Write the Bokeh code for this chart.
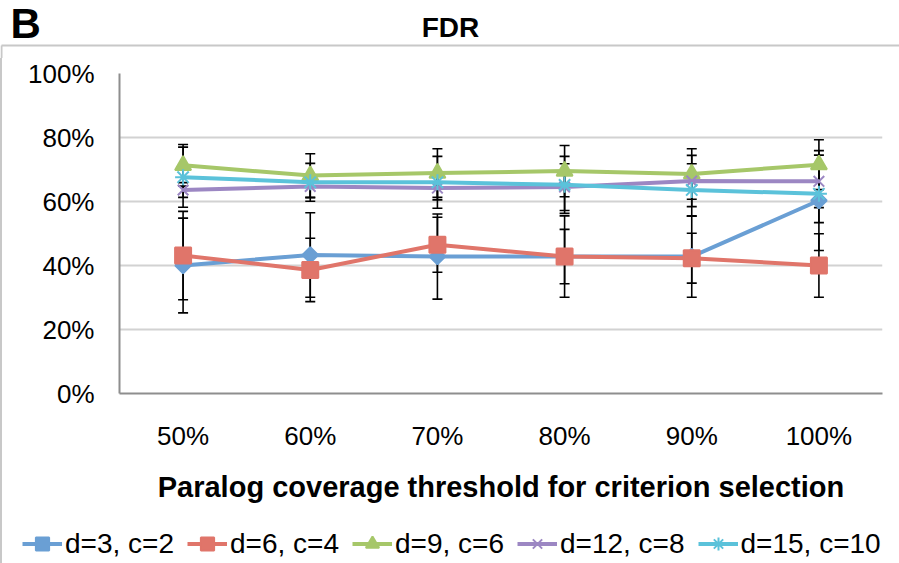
from bokeh.plotting import figure
from bokeh.layouts import column
from bokeh.models import (ColumnDataSource, FactorRange, Range1d, FixedTicker, Whisker, TeeHead,
                          Legend, LegendItem)
from bokeh.core.properties import value
from bokeh.embed import file_html
from bokeh.resources import INLINE
import math

# ---------------- data ----------------
categories = ["50%", "60%", "70%", "80%", "90%", "100%"]

series_names = ["d=3, c=2", "d=6, c=4", "d=9, c=6", "d=12, c=8", "d=15, c=10"]

d3_c2 = [40.0, 43.3, 42.8, 42.8, 42.8, 60.3]
d3_c2_err = [14.8, 13.2, 13.3, 12.7, 12.7, 15.6]

d6_c4 = [43.1, 38.6, 46.5, 42.8, 42.3, 40.0]
d6_c4_err = [13.8, 9.9, 8.6, 8.5, 7.8, 9.9]

d9_c6 = [71.3, 68.1, 68.9, 69.5, 68.6, 71.5]
d9_c6_err = [6.5, 6.8, 7.6, 8.0, 7.9, 7.8]

d12_c8 = [63.6, 64.7, 64.2, 64.5, 66.4, 66.3]
d12_c8_err = [2.3, 3.5, 3.7, 7.3, 8.0, 8.2]

d15_c10 = [67.6, 66.0, 66.0, 65.2, 63.6, 62.4]
d15_c10_err = [9.4, 5.9, 8.1, 8.9, 8.2, 9.0]

y_ticks = [0, 20, 40, 60, 80, 100]
y_tick_labels = ["0%", "20%", "40%", "60%", "80%", "100%"]

title_text = "FDR"
panel_text = "B"
x_title = "Paralog coverage threshold for criterion selection"

# ---------------- styling ----------------
FONT = "Liberation Sans"
BORDER = "#C8C8C8"
colors = ["#6A9FD4", "#E0756A", "#A6C769", "#9C87C3", "#5BC2DA"]
markers = ["square", "square", "triangle", "x", "asterisk"]
angles = [math.pi / 4, 0, 0, 0, 0]
sizes = [11, 16, 16, 15, 16]

values = [d3_c2, d6_c4, d9_c6, d12_c8, d15_c10]
errors = [d3_c2_err, d6_c4_err, d9_c6_err, d12_c8_err, d15_c10_err]

W = 899
HEAD_H = 58
FOOT_H = 48
MAIN_H = 563 - HEAD_H - FOOT_H

# ---------------- header (panel letter + title); y measured upward ----------------
head = figure(width=W, height=HEAD_H, x_range=Range1d(0, W), y_range=Range1d(0, HEAD_H),
              x_axis_type=None, y_axis_type=None, title=None, frame_align=False,
              min_border_left=0, min_border_right=0, min_border_top=0, min_border_bottom=0,
              output_backend="svg", toolbar_location=None)
head.grid.visible = False
head.outline_line_color = None
head.text(x=[10], y=[HEAD_H - 23], text=[panel_text], text_font=value(FONT), text_font_style="bold",
          text_font_size="42px", text_baseline="middle", text_align="left", text_color="black")
head.text(x=[450], y=[HEAD_H - 27], text=[title_text], text_font=value(FONT), text_font_style="bold",
          text_font_size="28px", text_baseline="middle", text_align="center", text_color="black")
head.segment(x0=[1], y0=[HEAD_H - 45], x1=[W], y1=[HEAD_H - 45], line_color=BORDER, line_width=2)
head.segment(x0=[1], y0=[HEAD_H - 45], x1=[1], y1=[0], line_color=BORDER, line_width=2)

# ---------------- main chart ----------------
p = figure(width=W, height=MAIN_H, x_range=FactorRange(*categories), y_range=Range1d(0, 100),
           output_backend="svg", toolbar_location=None, frame_align=False, title=None,
           min_border_left=117, min_border_right=19, min_border_top=15,
           min_border_bottom=MAIN_H - 15 - 320)
p.outline_line_color = None
p.styles = {"border-left": "2px solid " + BORDER, "box-sizing": "border-box"}

p.yaxis.ticker = FixedTicker(ticks=y_ticks)
p.yaxis.major_label_overrides = {t: l for t, l in zip(y_ticks, y_tick_labels)}
for ax in (p.xaxis[0], p.yaxis[0]):
    ax.axis_line_color = "#8E8E8E"
    ax.axis_line_width = 2
    ax.major_tick_line_color = None
    ax.minor_tick_line_color = None
    ax.major_tick_out = 0
    ax.major_tick_in = 0
    ax.major_label_text_font = FONT
    ax.major_label_text_font_size = "26px"
    ax.major_label_text_color = "black"
p.yaxis.major_label_standoff = 25
p.xaxis.major_label_standoff = 27
p.xaxis.axis_label = x_title
p.xaxis.axis_label_text_font = FONT
p.xaxis.axis_label_text_font_style = "bold"
p.xaxis.axis_label_text_font_size = "29px"
p.xaxis.axis_label_text_color = "black"
p.xaxis.axis_label_standoff = 17

p.xgrid.grid_line_color = None
p.ygrid.grid_line_color = "#D2D2D2"
p.ygrid.grid_line_width = 2
p.ygrid.ticker = FixedTicker(ticks=y_ticks)

for vals, errs in zip(values, errors):
    src = ColumnDataSource(dict(x=categories,
                                upper=[v + e for v, e in zip(vals, errs)],
                                lower=[v - e for v, e in zip(vals, errs)]))
    p.add_layout(Whisker(base="x", upper="upper", lower="lower", source=src,
                         line_color="black", line_width=1.6,
                         upper_head=TeeHead(size=10, line_color="black", line_width=1.6),
                         lower_head=TeeHead(size=10, line_color="black", line_width=1.6)))

for vals, col, mk, ang, sz in zip(values, colors, markers, angles, sizes):
    src = ColumnDataSource(dict(x=categories, y=vals))
    p.line("x", "y", source=src, line_color=col, line_width=4)
    p.scatter("x", "y", source=src, marker=mk, size=sz, angle=ang,
              fill_color=col, line_color=col, line_width=2)

# ---------------- footer (legend) ----------------
# the footer's renderers carry the same series but lie outside its visible range;
# they only supply the legend glyphs
foot = figure(width=W, height=FOOT_H, x_range=FactorRange(*categories), y_range=Range1d(1000, 1000 + FOOT_H),
              x_axis_type=None, y_axis_type=None, title=None, frame_align=False,
              min_border_left=0, min_border_right=0, min_border_top=0, min_border_bottom=0,
              output_backend="svg", toolbar_location=None)
foot.grid.visible = False
foot.outline_line_color = None
foot.styles = {"border-left": "2px solid " + BORDER, "box-sizing": "border-box"}

items = []
for name, vals, col, mk, ang, sz in zip(series_names, values, colors, markers, angles, sizes):
    src = ColumnDataSource(dict(x=categories, y=vals))
    ln = foot.line("x", "y", source=src, line_color=col, line_width=4)
    sc = foot.scatter("x", "y", source=src, marker=mk, angle=ang, size=sz,
                      fill_color=col, line_color=col, line_width=2)
    items.append(LegendItem(label=name, renderers=[ln, sc]))

legend = Legend(items=items, orientation="horizontal", location=(20, 3),
                glyph_width=40, glyph_height=33, label_standoff=3, spacing=13,
                padding=0, margin=0, background_fill_alpha=0, border_line_color=None,
                label_text_font=FONT, label_text_font_size="28px", label_text_color="black")
foot.add_layout(legend, "center")

layout = column(head, p, foot, spacing=0)
open("out.html", "w").write(file_html(layout, INLINE))
